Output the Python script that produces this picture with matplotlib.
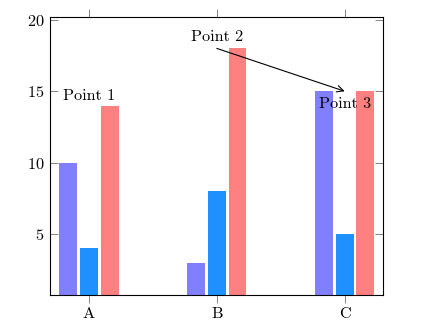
import numpy as np
import matplotlib
matplotlib.use("Agg")
import matplotlib.pyplot as plt

plt.rcParams['font.family'] = ['cmr10', 'DejaVu Serif']
plt.rcParams['axes.formatter.use_mathtext'] = True
plt.rcParams['font.size'] = 11.7

# datos
categorias = ['A', 'B', 'C']
serie1 = [10, 3, 15]
serie2 = [4, 8, 5]
serie3 = [14, 18, 15]
colores = ['#8080FF', '#1E90FF', '#FF8080']

etiquetas = ['Point 1', 'Point 2', 'Point 3']

fig = plt.figure(figsize=(4.22, 3.29), dpi=100)
ax = fig.add_axes([50/422, 1 - 295/329, 333/422, 278/329])

x = np.arange(len(categorias))
ancho = 0.14
paso = 0.162
for k, (serie, c) in enumerate(zip([serie1, serie2, serie3], colores)):
    ax.bar(x + (k - 1)*paso, serie, width=ancho, color=c, bottom=0, zorder=2)

ax.set_xlim(-0.305, 2.30)
ax.set_ylim(0.73, 20.2)
ax.set_xticks(x)
ax.set_xticklabels(categorias)
ax.set_yticks([5, 10, 15, 20])

ax.tick_params(axis='x', direction='out', length=6, width=0.5, color='#555555',
               top=True, bottom=True, pad=3)
ax.tick_params(axis='y', direction='in', length=6, width=0.5, color='#555555',
               left=True, right=True, pad=4)
for s in ax.spines.values():
    s.set_linewidth(0.8)

# anotaciones
ax.annotate(etiquetas[0], (x[0], serie3[0]), xytext=(0, 2), textcoords='offset points',
            ha='center', va='bottom')
ax.annotate(etiquetas[1], (x[1], serie3[1]), xytext=(0, 3), textcoords='offset points',
            ha='center', va='bottom')
ax.annotate(etiquetas[2], (x[2], serie1[2]), xytext=(0, -4), textcoords='offset points',
            ha='center', va='top')
ax.annotate('', xy=(x[2], serie3[2]), xytext=(x[1], serie3[1]),
            arrowprops=dict(arrowstyle='->', color='black', lw=0.8, shrinkA=0, shrinkB=0))

fig.savefig('out.png', dpi=100)
